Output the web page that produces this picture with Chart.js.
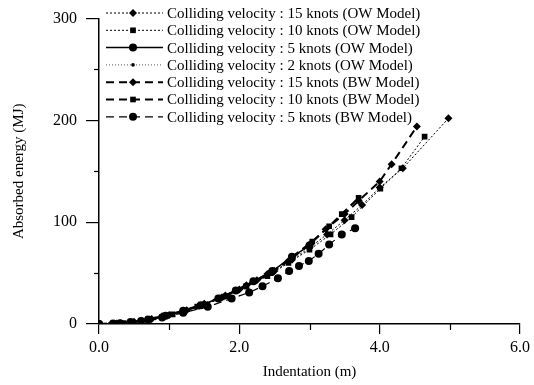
<!DOCTYPE html>
<html>
<head>
<meta charset="utf-8">
<script src="https://cdn.jsdelivr.net/npm/chart.js@4/dist/chart.umd.min.js"></script>
<style>
html,body{margin:0;padding:0;background:#fff;}
#wrap{width:534px;height:385px;position:relative;}
</style>
</head>
<body>
<div id="wrap"><canvas id="c" width="534" height="385"></canvas></div>
<script>
// ---- data ----
const seriesLabels = [
  "Colliding velocity : 15 knots (OW Model)",
  "Colliding velocity : 10 knots (OW Model)",
  "Colliding velocity : 5 knots (OW Model)",
  "Colliding velocity : 2 knots (OW Model)",
  "Colliding velocity : 15 knots (BW Model)",
  "Colliding velocity : 10 knots (BW Model)",
  "Colliding velocity : 5 knots (BW Model)"
];
const ow15X = [0,0.25,0.5,0.75,1.0,1.25,1.5,1.75,2.0,2.25,2.5,2.75,3.0,3.25,3.5,3.75,4.0,4.33,4.98];
const ow15Y = [0,0.5,2.2,5,8.8,13.5,19,26,34,43,52,63,75,88,102,117,134,153,202];
const ow10X = [0,0.3,0.6,0.9,1.2,1.5,1.8,2.1,2.4,2.7,3.0,3.3,3.6,4.01,4.31,4.64];
const ow10Y = [0,0.7,3,7,12,19,27,37,47,60,73,88,105,133,153,184];
const ow5X  = [0,0.2,0.45,0.7,0.95,1.2,1.45,1.7,1.95,2.2,2.47,2.75,3.0];
const ow5Y  = [0,0.4,1.9,4.5,8.2,13,18.5,25,33,42,52,66,77];
const ow2X  = [0,0.15,0.3,0.45,0.6,0.8,1.0,1.2,1.4];
const ow2Y  = [0,0.2,0.8,1.8,3.2,5.5,8.7,12.5,17];
const bw15X = [0,0.3,0.6,0.9,1.2,1.5,1.8,2.1,2.4,2.7,3.0,3.23,3.5,3.7,4.0,4.17,4.53];
const bw15Y = [0,0.8,3.2,7.5,13,20,28,38,49,62,78,93,108,121,140,157,194];
const bw10X = [0,0.35,0.7,1.05,1.4,1.75,2.1,2.45,2.75,3.04,3.28,3.46,3.7];
const bw10Y = [0,1,4.3,9.5,17,26,37,50,66,81,96,108,124];
const bw5X  = [0,0.3,0.6,0.9,1.2,1.55,1.89,2.14,2.33,2.55,2.71,2.85,2.99,3.13,3.28,3.46,3.65];
const bw5Y  = [0,0.8,3,6.5,11,17,25,31,37,45,52,57,62,69,78,88,94];
const xMajorTicks = [0,2,4,6];
const xMinorTicks = [1,3,5];
const yMajorTicks = [0,100,200,300];
const yMinorTicks = [50,150,250];

function pts(xs, ys){ return xs.map((x,i)=>({x:x, y:ys[i]})); }

const styles = [
  {pointStyle:'rectRot', r:4,   dash:[2,2], w:1,   color:'#000'},
  {pointStyle:'rect',    r:4,   dash:[2,2], w:1,   color:'#000'},
  {pointStyle:'circle',  r:4,   dash:[],    w:1.5, color:'#000'},
  {pointStyle:'circle',  r:1.8, dash:[1,2], w:1,   color:'#555'},
  {pointStyle:'rectRot', r:4,   dash:[8,5], w:2,   color:'#000'},
  {pointStyle:'rect',    r:4,   dash:[8,5], w:2,   color:'#000'},
  {pointStyle:'circle',  r:4,   dash:[8,5], w:1.2, color:'#000'}
];
const seriesData = [
  pts(ow15X,ow15Y), pts(ow10X,ow10Y), pts(ow5X,ow5Y), pts(ow2X,ow2Y),
  pts(bw15X,bw15Y), pts(bw10X,bw10Y), pts(bw5X,bw5Y)
];

const datasets = seriesData.map((d,i)=>({
  label: seriesLabels[i],
  data: d,
  showLine: true,
  borderColor: styles[i].color,
  backgroundColor: styles[i].color,
  borderWidth: styles[i].w,
  borderDash: styles[i].dash,
  pointStyle: styles[i].pointStyle,
  pointRadius: styles[i].r,
  pointBorderWidth: 0,
  pointBackgroundColor: '#000',
  tension: 0
}));

const FONT = '"Liberation Serif", "DejaVu Serif", serif';

const minorTicksPlugin = {
  id: 'minorTicks',
  afterDraw(chart){
    const ctx = chart.ctx, xs = chart.scales.x, ys = chart.scales.y;
    ctx.save();
    ctx.strokeStyle = '#000'; ctx.lineWidth = 1.2;
    xMinorTicks.forEach(v=>{
      const px = Math.round(xs.getPixelForValue(v)) + 0.5;
      ctx.beginPath(); ctx.moveTo(px, ys.bottom); ctx.lineTo(px, ys.bottom + 6); ctx.stroke();
    });
    yMinorTicks.forEach(v=>{
      const py = Math.round(ys.getPixelForValue(v)) + 0.5;
      ctx.beginPath(); ctx.moveTo(xs.left, py); ctx.lineTo(xs.left - 5, py); ctx.stroke();
    });
    ctx.restore();
  }
};

const legendPlugin = {
  id: 'customLegend',
  afterDraw(chart){
    const ctx = chart.ctx;
    ctx.save();
    chart.data.datasets.forEach((ds,i)=>{
      const y = 13 + i*17.3;
      ctx.strokeStyle = ds.borderColor;
      ctx.lineWidth = ds.borderWidth;
      ctx.setLineDash(ds.borderDash);
      ctx.beginPath(); ctx.moveTo(106, y); ctx.lineTo(163, y); ctx.stroke();
      ctx.setLineDash([]);
      ctx.fillStyle = '#000'; ctx.strokeStyle = '#000';
      Chart.helpers.drawPoint(ctx, {pointStyle: ds.pointStyle, radius: ds.pointRadius, rotation: 0, borderWidth: 0}, 133, y);
      ctx.fillStyle = '#000';
      ctx.font = '15px ' + FONT;
      ctx.textBaseline = 'middle';
      ctx.textAlign = 'left';
      ctx.fillText(ds.label, 167, y + 1);
    });
    ctx.restore();
  }
};

new Chart(document.getElementById('c'), {
  type: 'scatter',
  data: { datasets },
  options: {
    responsive: false,
    animation: false,
    devicePixelRatio: 1,
    layout: { padding: { top: 17, right: 13, left: 0, bottom: 0 } },
    plugins: { legend: { display: false }, tooltip: { enabled: false } },
    scales: {
      x: {
        type: 'linear', min: 0, max: 6,
        afterBuildTicks(scale){ scale.ticks = xMajorTicks.map(v=>({value:v})); },
        afterFit(scale){ scale.height = 61; },
        ticks: { color:'#000', padding: 4, font:{ family: FONT, size: 16 },
                 callback: v => v.toFixed(1), maxRotation: 0 },
        grid: { drawOnChartArea: false, tickLength: 10, color:'#000', tickColor:'#000', lineWidth: 1.2 },
        border: { color:'#000', width: 1.5 },
        title: { display: true, text: 'Indentation (m)', color:'#000',
                 font:{ family: FONT, size: 15 }, padding: { top: 0, bottom: 4 } }
      },
      y: {
        type: 'linear', min: 0, max: 300,
        afterBuildTicks(scale){ scale.ticks = yMajorTicks.map(v=>({value:v})); },
        afterFit(scale){ scale.width = 99; },
        ticks: { color:'#000', padding: 9, font:{ family: FONT, size: 16 } },
        grid: { drawOnChartArea: false, tickLength: 13, color:'#000', tickColor:'#000', lineWidth: 1.2 },
        border: { color:'#000', width: 1.5 },
        title: { display: true, text: 'Absorbed energy (MJ)', color:'#000',
                 font:{ family: FONT, size: 15 }, padding: { top: 10, bottom: 0 } }
      }
    }
  },
  plugins: [minorTicksPlugin, legendPlugin]
});
</script>
</body>
</html>
